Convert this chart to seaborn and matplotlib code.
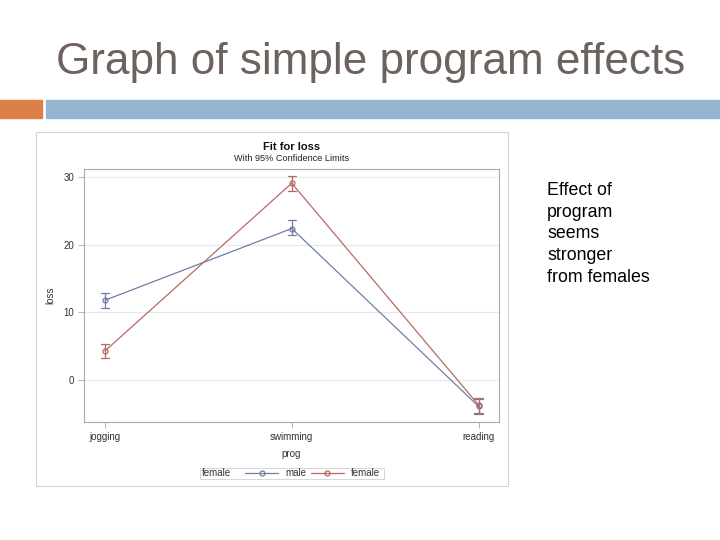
import matplotlib
matplotlib.use("Agg")
import matplotlib.pyplot as plt
from matplotlib.patches import Rectangle
from matplotlib.lines import Line2D
import numpy as np
import pandas as pd
import seaborn as sns

# estimates and 95% limits
progs = ["jogging", "swimming", "reading"]
male_fit = [11.8, 22.4, -3.9]
male_lower = [10.7, 21.5, -5.0]
male_upper = [12.8, 23.6, -2.8]
female_fit = [4.3, 29.1, -3.7]
female_lower = [3.2, 28.0, -4.8]
female_upper = [5.4, 30.1, -2.6]

slide_title = "Graph of simple program effects"
side_note = "Effect of\nprogram\nseems\nstronger\nfrom females"

male_col = "#6F7EAA"
female_col = "#B46A64"

# long table: lower / fit / upper per cell, median = fit, min/max = limits
rows = []
for sex, fit, lo, hi in [("male", male_fit, male_lower, male_upper),
                         ("female", female_fit, female_lower, female_upper)]:
    for p, f, l, h in zip(progs, fit, lo, hi):
        for v in (l, f, h):
            rows.append({"prog": p, "female": sex, "loss": v})
df = pd.DataFrame(rows)

sns.set_theme(style="white")
plt.rcParams["font.family"] = ["Liberation Sans", "DejaVu Sans"]

fig = plt.figure(figsize=(7.2, 5.4), dpi=100)

# slide decoration
fig.patches.append(Rectangle((0, 1 - 118 / 540), 42 / 720, 18 / 540,
                             transform=fig.transFigure, color="#DD8047", zorder=-2))
fig.patches.append(Rectangle((46 / 720, 1 - 118 / 540), 1 - 46 / 720, 18 / 540,
                             transform=fig.transFigure, color="#94B6D2", zorder=-2))
fig.text(56 / 720, 1 - 62.5 / 540, slide_title, ha="left", va="center",
         fontsize=31.8, color="#6E625E")
fig.text(547 / 720, 1 - 182 / 540, side_note, ha="left", va="top",
         fontsize=12.8, color="black", linespacing=1.36)

# chart frame
fig.patches.append(Rectangle((36 / 720, 1 - 486 / 540), 472 / 720, 354 / 540,
                             transform=fig.transFigure, facecolor="white",
                             edgecolor="#D4D4D4", lw=0.8, zorder=-1))

ax = fig.add_axes([84 / 720, 1 - 422 / 540, 415 / 720, 253 / 540])
sns.pointplot(data=df, x="prog", y="loss", hue="female", order=progs,
              hue_order=["male", "female"], palette=[male_col, female_col],
              estimator=np.median, errorbar=lambda v: (v.min(), v.max()),
              capsize=0.045, markers="o", markersize=3.6, linewidth=0.9,
              markerfacecolor="none", markeredgewidth=0.9,
              err_kws={"linewidth": 0.9}, legend=False, ax=ax)

ax.set_xlim(-0.112, 2.109)
ax.set_ylim(-6.2, 31.2)
ax.set_yticks([0, 10, 20, 30])
ax.yaxis.grid(True, color="#E8E8E8", lw=0.8)
ax.set_axisbelow(True)
for s in ax.spines.values():
    s.set_color("#A8A8A8")
    s.set_linewidth(0.8)
ax.tick_params(axis="both", labelsize=7, labelcolor="#333333", length=4,
               width=0.6, pad=3, color="#A8A8A8", bottom=True, left=True)
ax.set_xlabel("prog", fontsize=7, color="#333333", labelpad=5)
ax.set_ylabel("loss", fontsize=7, color="#333333", labelpad=6)

fig.text(291.7 / 720, 1 - 147 / 540, "Fit for loss", ha="center", va="center",
         fontsize=8, fontweight="bold", color="#111111")
fig.text(291.7 / 720, 1 - 158.5 / 540, "With 95% Confidence Limits",
         ha="center", va="center", fontsize=6.6, color="#222222")

# legend strip
fig.patches.append(Rectangle((200 / 720, 1 - 479 / 540), 184 / 720, 11.5 / 540,
                             transform=fig.transFigure, facecolor="white",
                             edgecolor="#D0D0D0", lw=0.6, zorder=1))
fig.text(202 / 720, 1 - 473.3 / 540, "female", ha="left", va="center",
         fontsize=7, color="#333333")
handles = [Line2D([], [], color=male_col, lw=0.9, marker="o", markersize=3.6,
                  markerfacecolor="none", markeredgewidth=0.9),
           Line2D([], [], color=female_col, lw=0.9, marker="o", markersize=3.6,
                  markerfacecolor="none", markeredgewidth=0.9)]
fig.legend(handles, ["male", "female"], loc="center left",
           bbox_to_anchor=(245 / 720, 1 - 473.3 / 540), ncol=2, frameon=False,
           fontsize=7, handlelength=3.4, handletextpad=0.72, columnspacing=0.5,
           borderpad=0, borderaxespad=0, labelcolor="#333333")

fig.savefig("out.png", dpi=100)
